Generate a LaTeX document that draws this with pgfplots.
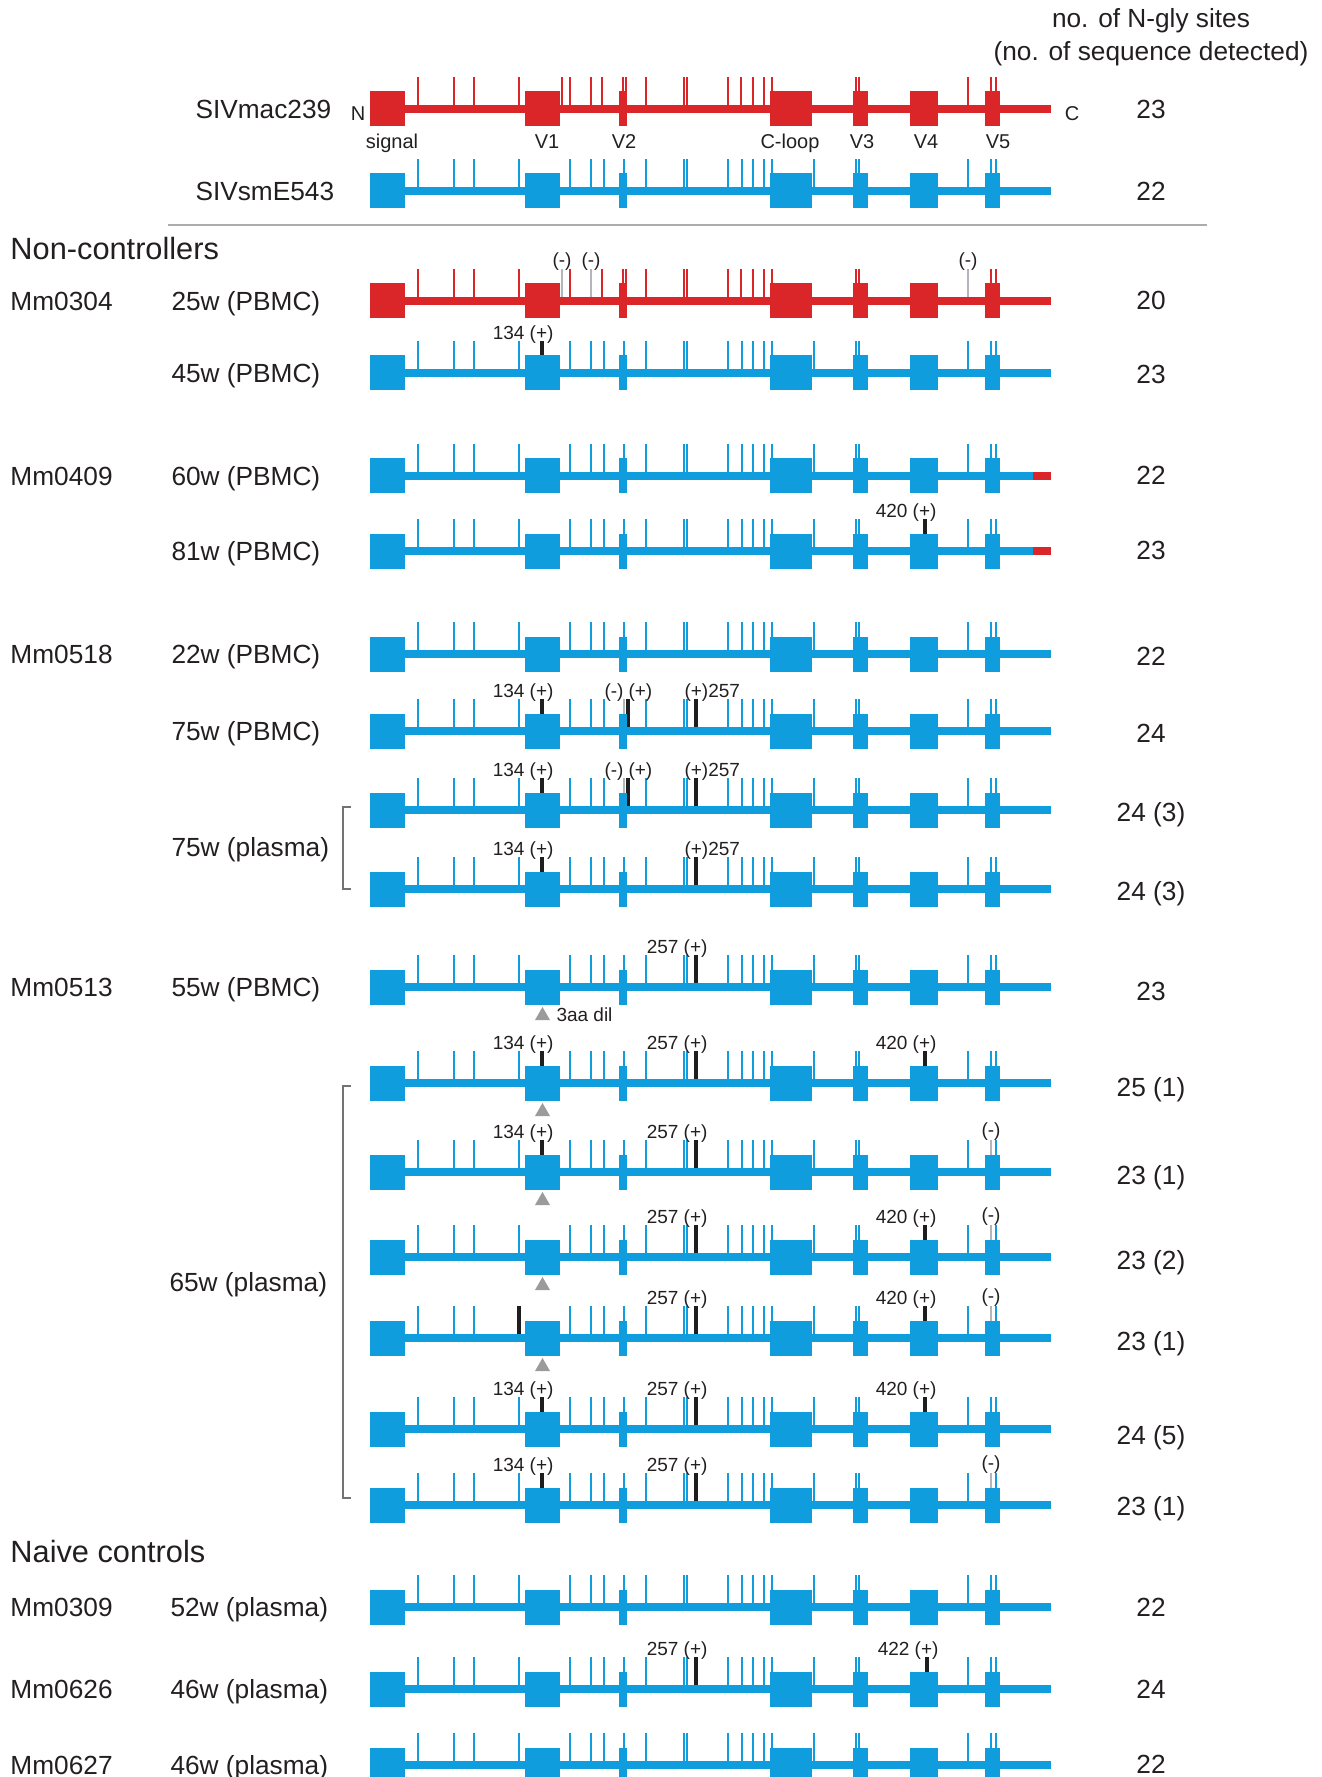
\documentclass[border=0pt]{standalone}
\usepackage{fontspec}
\setmainfont{Liberation Sans}
\usepackage{pgfplots}
\pgfplotsset{compat=1.18}
\definecolor{cR}{RGB}{218,37,41}
\definecolor{cB}{RGB}{16,157,222}
\definecolor{cG}{RGB}{178,182,186}
\definecolor{cK}{RGB}{30,30,30}
\definecolor{cT}{RGB}{155,155,155}
\definecolor{txt}{RGB}{35,31,32}
\definecolor{sep}{RGB}{172,172,172}

\newcommand{\fL}{\fontsize{10.5}{12.6}\selectfont}
\newcommand{\fH}{\fontsize{12.3}{14}\selectfont}
\newcommand{\fS}{\fontsize{7.6}{9}\selectfont}
\newcommand{\fM}{\fontsize{8}{9.6}\selectfont}

\pgfplotsset{
  blk/.style={cK, line width=1.4pt},
  gry/.style={cG, line width=1.0pt},
  tk/.style={line width=0.9pt, quiver={u=0,v=-32}},
}
% N-glycosylation site positions of SIVmac239 (#1 colour, #2 row y)
\newcommand{\macpat}[2]{\addplot[#1, tk] coordinates {(418,#2)(454,#2)(474,#2)(519,#2)(562,#2)(570,#2)(591,#2)(602,#2)(623,#2)(626,#2)(646,#2)(684,#2)(687,#2)(728,#2)(741,#2)(753,#2)(764,#2)(772,#2)(856,#2)(859,#2)(968,#2)(991,#2)(996,#2)};}
% N-glycosylation site positions of SIVsmE543
\newcommand{\epat}[2]{\addplot[#1, tk] coordinates {(418,#2)(454,#2)(474,#2)(519,#2)(570,#2)(591,#2)(604,#2)(624,#2)(646,#2)(684,#2)(687,#2)(728,#2)(742,#2)(753,#2)(764,#2)(772,#2)(814,#2)(856,#2)(859,#2)(968,#2)(991,#2)(996,#2)};}
% one modified site
\newcommand{\mk}[3]{\addplot[#1, quiver={u=0,v=-32}] coordinates {(#2,#3)};}
% backbone + domain boxes: #1 y, #2 colour, #3 line end
\newcommand{\envb}[3]{%
  \addplot[#2, line width=3.1pt] coordinates {(370,#1) (#3,#1)};
  \addplot[#2, line width=14pt, unbounded coords=jump] coordinates {(370,#1)(405,#1)(0,nan)(525,#1)(560,#1)(0,nan)(619,#1)(627,#1)(0,nan)(770,#1)(812,#1)(0,nan)(853,#1)(868,#1)(0,nan)(910,#1)(938,#1)(0,nan)(985,#1)(1000,#1)};
}
\newcommand{\tri}[2]{\addplot[cT, fill=cT, draw=none] coordinates {(535,#2)(550,#2)(542.5,#1)};}
\newcommand{\nt}[4]{\node[anchor=#3, font=\fS, text=txt, inner sep=0pt, text height=5.45pt, text depth=0pt] at (axis cs:#1,#2) {#4};}
\newcommand{\lt}[3]{\node[anchor=west, font=\fL, text=txt, inner sep=0pt, text height=7.5pt, text depth=0pt] at (axis cs:#1,#2) {#3};}

\begin{document}
\begin{tikzpicture}
\begin{axis}[
  width=528.4pt, height=710.8pt, scale only axis,
  xmin=0, xmax=1321, ymin=0, ymax=1777, y dir=reverse,
  hide axis, clip=false,
]
% ---- reference strains
\macpat{cR}{109}
\envb{109}{cR}{1051}
\epat{cB}{191}
\envb{191}{cB}{1051}
\addplot[sep, line width=0.8pt] coordinates {(168,225)(1207,225)};
% ---- Mm0304
\macpat{cR}{301}
\mk{gry}{562}{301}\mk{gry}{591}{301}\mk{gry}{968}{301}
\envb{301}{cR}{1051}
\epat{cB}{373}
\mk{blk}{542}{373}
\envb{373}{cB}{1051}
% ---- Mm0409
\epat{cB}{476}
\envb{476}{cB}{1033}
\addplot[cR, line width=3.1pt] coordinates {(1033,476)(1051,476)};
\epat{cB}{551}
\mk{blk}{925}{551}
\envb{551}{cB}{1033}
\addplot[cR, line width=3.1pt] coordinates {(1033,551)(1051,551)};
% ---- Mm0518
\epat{cB}{654}
\envb{654}{cB}{1051}
\epat{cB}{731}
\mk{blk}{542}{731}\mk{gry}{624}{731}\mk{blk}{628}{731}\mk{blk}{696}{731}
\envb{731}{cB}{1051}
\epat{cB}{810}
\mk{blk}{542}{810}\mk{gry}{624}{810}\mk{blk}{628}{810}\mk{blk}{696}{810}
\envb{810}{cB}{1051}
\epat{cB}{889}
\mk{blk}{542}{889}\mk{blk}{696}{889}
\envb{889}{cB}{1051}
% ---- Mm0513
\epat{cB}{987}
\mk{blk}{696}{987}
\envb{987}{cB}{1051}
\tri{1007}{1020}
\epat{cB}{1083}
\mk{blk}{542}{1083}\mk{blk}{696}{1083}\mk{blk}{925}{1083}
\envb{1083}{cB}{1051}
\tri{1103}{1116}
\epat{cB}{1172}
\mk{blk}{542}{1172}\mk{blk}{696}{1172}\mk{gry}{991}{1172}
\envb{1172}{cB}{1051}
\tri{1192}{1205}
\epat{cB}{1257}
\mk{blk}{696}{1257}\mk{blk}{925}{1257}\mk{gry}{991}{1257}
\envb{1257}{cB}{1051}
\tri{1277}{1290}
\epat{cB}{1338}
\mk{blk}{519}{1338}\mk{blk}{696}{1338}\mk{blk}{925}{1338}\mk{gry}{991}{1338}
\envb{1338}{cB}{1051}
\tri{1358}{1371}
\epat{cB}{1429}
\mk{blk}{542}{1429}\mk{blk}{696}{1429}\mk{blk}{925}{1429}
\envb{1429}{cB}{1051}
\epat{cB}{1505}
\mk{blk}{542}{1505}\mk{blk}{696}{1505}\mk{gry}{991}{1505}
\envb{1505}{cB}{1051}
% ---- naive controls
\epat{cB}{1607}
\envb{1607}{cB}{1051}
\epat{cB}{1689}
\mk{blk}{696}{1689}\mk{blk}{927}{1689}
\envb{1689}{cB}{1051}
\epat{cB}{1765}
\envb{1765}{cB}{1051}
% brackets
\addplot[black!55, line width=0.5pt] coordinates {(351,807)(343,807)(343,889)(351,889)};
\addplot[black!55, line width=0.5pt] coordinates {(351,1086)(343,1086)(343,1498)(351,1498)};

% ---- texts: header
\node[font=\fL, text=txt, inner sep=0pt] at (axis cs:1151,21) {no. of N-gly sites};
\node[font=\fL, text=txt, inner sep=0pt] at (axis cs:1151,54) {(no. of sequence detected)};
% strain names
\lt{195}{109}{SIVmac239}
\lt{195}{191}{SIVsmE543}
\node[font=\fM, text=txt, inner sep=0pt] at (axis cs:358,114) {N};
\node[font=\fM, text=txt, inner sep=0pt] at (axis cs:1072,114) {C};
\node[font=\fM, text=txt, inner sep=0pt, text height=5.7pt, text depth=1.6pt] at (axis cs:392,143) {signal};
\node[font=\fM, text=txt, inner sep=0pt, text height=5.7pt, text depth=1.6pt] at (axis cs:547,143) {V1};
\node[font=\fM, text=txt, inner sep=0pt, text height=5.7pt, text depth=1.6pt] at (axis cs:624,143) {V2};
\node[font=\fM, text=txt, inner sep=0pt, text height=5.7pt, text depth=1.6pt] at (axis cs:790,143) {C-loop};
\node[font=\fM, text=txt, inner sep=0pt, text height=5.7pt, text depth=1.6pt] at (axis cs:862,143) {V3};
\node[font=\fM, text=txt, inner sep=0pt, text height=5.7pt, text depth=1.6pt] at (axis cs:926,143) {V4};
\node[font=\fM, text=txt, inner sep=0pt, text height=5.7pt, text depth=1.6pt] at (axis cs:998,143) {V5};
% group headers
\node[font=\fH, text=txt, anchor=west, inner sep=0pt, text height=8.8pt, text depth=0pt] at (axis cs:10,249) {Non-controllers};
\node[font=\fH, text=txt, anchor=west, inner sep=0pt, text height=8.8pt, text depth=0pt] at (axis cs:10,1551) {Naive controls};
% animals and time points
\lt{10}{301}{Mm0304}
\lt{10}{476}{Mm0409}
\lt{10}{654}{Mm0518}
\lt{10}{987}{Mm0513}
\lt{10}{1607}{Mm0309}
\lt{10}{1689}{Mm0626}
\lt{10}{1765}{Mm0627}
\lt{171}{301}{25w (PBMC)}
\lt{171}{373}{45w (PBMC)}
\lt{171}{476}{60w (PBMC)}
\lt{171}{551}{81w (PBMC)}
\lt{171}{654}{22w (PBMC)}
\lt{171}{731}{75w (PBMC)}
\lt{171}{847}{75w (plasma)}
\lt{171}{987}{55w (PBMC)}
\lt{169}{1282}{65w (plasma)}
\lt{170}{1607}{52w (plasma)}
\lt{170}{1689}{46w (plasma)}
\lt{170}{1765}{46w (plasma)}
% site counts
\foreach \yy/\lbltxt in {109/23,191/22,300/20,374/23,475/22,550/23,656/22,733/24,812/24 (3),891/24 (3),991/23,1087/25 (1),1175/23 (1),1260/23 (2),1341/23 (1),1435/24 (5),1506/23 (1),1607/22,1689/24,1764/22}{
  \edef\tmp{\noexpand\node[font=\noexpand\fL, text=txt, inner sep=0pt, text height=7.5pt, text depth=0pt] at (axis cs:1151,\yy) {\lbltxt};}\tmp
}
% site annotations
\nt{562}{260}{center}{(-)}\nt{591}{260}{center}{(-)}\nt{968}{260}{center}{(-)}
\nt{554}{333}{east}{134 (+)}
\nt{937}{511}{east}{420 (+)}
\nt{554}{691}{east}{134 (+)}\nt{624}{691}{east}{(-)}\nt{628}{691}{west}{(+)}\nt{684}{691}{west}{(+)257}
\nt{554}{770}{east}{134 (+)}\nt{624}{770}{east}{(-)}\nt{628}{770}{west}{(+)}\nt{684}{770}{west}{(+)257}
\nt{554}{849}{east}{134 (+)}\nt{684}{849}{west}{(+)257}
\nt{708}{947}{east}{257 (+)}
\nt{556}{1015}{west}{3aa dil}
\nt{554}{1043}{east}{134 (+)}\nt{708}{1043}{east}{257 (+)}\nt{937}{1043}{east}{420 (+)}
\nt{554}{1132}{east}{134 (+)}\nt{708}{1132}{east}{257 (+)}\nt{991}{1130}{center}{(-)}
\nt{708}{1217}{east}{257 (+)}\nt{937}{1217}{east}{420 (+)}\nt{991}{1215}{center}{(-)}
\nt{708}{1298}{east}{257 (+)}\nt{937}{1298}{east}{420 (+)}\nt{991}{1296}{center}{(-)}
\nt{554}{1389}{east}{134 (+)}\nt{708}{1389}{east}{257 (+)}\nt{937}{1389}{east}{420 (+)}
\nt{554}{1465}{east}{134 (+)}\nt{708}{1465}{east}{257 (+)}\nt{991}{1463}{center}{(-)}
\nt{708}{1649}{east}{257 (+)}\nt{939}{1649}{east}{422 (+)}
\end{axis}
\pgfresetboundingbox
\path[use as bounding box] (0,0) rectangle (528.4pt,710.8pt);
\end{tikzpicture}
\end{document}
